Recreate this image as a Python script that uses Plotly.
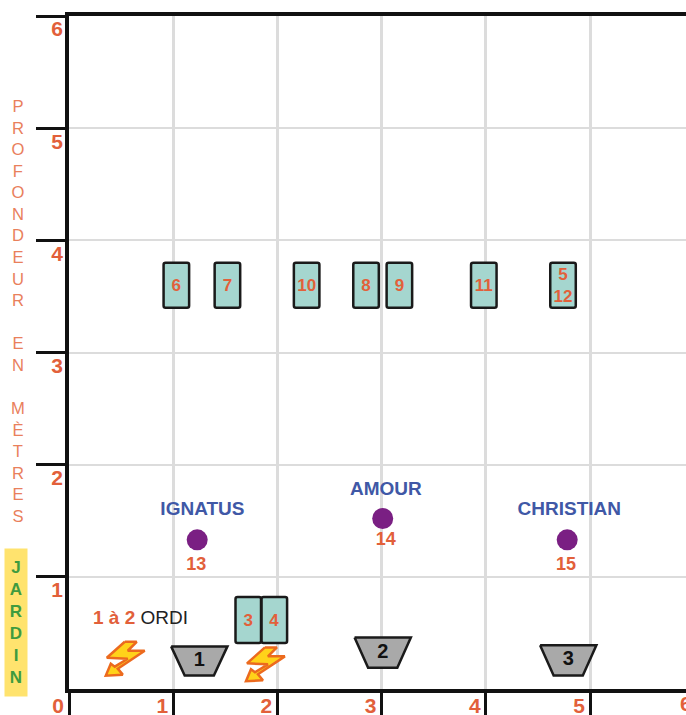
import plotly.graph_objects as go

# --- data (metres) ---
ticks = [0, 1, 2, 3, 4, 5, 6]

back_row_x = [1.03, 1.52, 2.28, 2.85, 3.17, 3.98, 4.74]
back_row_labels = ["6", "7", "10", "8", "9", "11", "5<br>12"]
back_row_bottom = [3.40] * 7
back_row_depth = [0.40] * 7

front_row_x = [1.72, 1.97]
front_row_labels = ["3", "4"]
front_row_bottom = [0.41, 0.41]
front_row_depth = [0.41, 0.41]

actor_x = [1.23, 3.01, 4.78]
actor_y = [1.33, 1.52, 1.33]
actor_names = ["IGNATUS", "AMOUR", "CHRISTIAN"]
actor_name_x = [1.28, 3.04, 4.80]
actor_name_y = [1.59, 1.77, 1.59]
actor_numbers = ["13", "14", "15"]
actor_number_x = [1.22, 3.04, 4.77]
actor_number_y = [1.10, 1.32, 1.10]

wedge_x = [1.25, 3.01, 4.79]
wedge_low = [0.12, 0.19, 0.12]
wedge_high = [0.38, 0.46, 0.39]
wedge_labels = ["1", "2", "3"]

bolt_x = [0.535, 1.88]
bolt_y = [0.27, 0.22]

# --- styling ---
ORANGE = "#e2603a"
ORANGE_LIGHT = "#e9805c"
BLUE = "#4058a6"
GREEN = "#3f9b3f"
FONT = "Liberation Sans"
PX_X, PX_Y = 104.5, 112.7
BOLT_OUTLINE = [(0, -17), (12, -17), (3, -8), (20, -8), (-7, 10), (-2, 16),
                (-19, 17), (-14, 5), (-10, 8), (3, 0), (-18, -1), (0, -17)]
WEDGE_TOP, WEDGE_BOTTOM = 0.27, 0.14
X_END = 5.92

fig = go.Figure()

for xs, labels, base, depth in [(back_row_x, back_row_labels, back_row_bottom, back_row_depth),
                                (front_row_x, front_row_labels, front_row_bottom, front_row_depth)]:
    fig.add_trace(go.Bar(
        x=xs, y=depth, base=base, width=0.245, text=labels,
        textposition="inside", insidetextanchor="middle", textangle=0,
        constraintext="none",
        textfont=dict(family=FONT, size=17, color=ORANGE, weight="bold"),
        marker=dict(color="#a5d6cf", line=dict(color="#1a1a1a", width=2.5)),
    ))

for cx, lo, hi in zip(wedge_x, wedge_low, wedge_high):
    fig.add_trace(go.Scatter(
        x=[cx - WEDGE_TOP, cx + WEDGE_TOP, cx + WEDGE_BOTTOM, cx - WEDGE_BOTTOM, cx - WEDGE_TOP],
        y=[hi, hi, lo, lo, hi], mode="lines", fill="toself", fillcolor="#a9a9a9",
        line=dict(color="#1a1a1a", width=2.5),
    ))
fig.add_trace(go.Scatter(
    x=wedge_x, y=[(a + b) / 2 for a, b in zip(wedge_low, wedge_high)], mode="text",
    text=wedge_labels, textfont=dict(family=FONT, size=20, color="#111111", weight="bold"),
))

for cx, cy in zip(bolt_x, bolt_y):
    fig.add_trace(go.Scatter(
        x=[cx + dx / PX_X for dx, _ in BOLT_OUTLINE],
        y=[cy - dy / PX_Y for _, dy in BOLT_OUTLINE],
        mode="lines", fill="toself", fillcolor="#ffd21a",
        line=dict(color="#ec6a1e", width=2.5),
    ))

fig.add_trace(go.Scatter(
    x=actor_x, y=actor_y, mode="markers",
    marker=dict(size=21, color="#7a1f83"),
))
fig.add_trace(go.Scatter(
    x=actor_name_x, y=actor_name_y, mode="text", text=actor_names,
    textfont=dict(family=FONT, size=19, color=BLUE, weight="bold"),
))
fig.add_trace(go.Scatter(
    x=actor_number_x, y=actor_number_y, mode="text", text=actor_numbers,
    textfont=dict(family=FONT, size=18, color=ORANGE, weight="bold"),
))

tick_font = dict(family=FONT, size=21, color=ORANGE, weight="bold")

fig.update_layout(
    width=686, height=715,
    margin=dict(l=69, r=0, t=16, b=26, autoexpand=False),
    paper_bgcolor="white", plot_bgcolor="white",
    showlegend=False, barmode="overlay", barcornerradius=2,
    font=dict(family=FONT),
    xaxis=dict(
        range=[0, X_END], tickvals=ticks[:-1], ticktext=[str(t) for t in ticks[:-1]],
        ticks="outside", ticklen=26, tickwidth=3, tickcolor="#111111", automargin=False,
        showline=True, linewidth=3.5, linecolor="#111111", mirror=True,
        showgrid=True, gridcolor="#dcdcdc", gridwidth=2.5, zeroline=False,
        tickfont=tick_font, ticklabelstandoff=-31, ticklabelshift=-11,
    ),
    yaxis=dict(
        range=[0, 6], tickvals=ticks[1:], ticktext=[str(t) for t in ticks[1:]],
        ticks="outside", ticklen=29, tickwidth=3, tickcolor="#111111", automargin=False,
        showline=True, linewidth=3.5, linecolor="#111111",
        showgrid=True, gridcolor="#dcdcdc", gridwidth=2, zeroline=False,
        tickfont=tick_font, ticklabelstandoff=-31, ticklabelshift=13,
    ),
    annotations=[
        # the "6" of the width scale falls at the right edge, past the plotted range
        dict(xref="x", yref="y", x=X_END, y=0, yshift=-14, xanchor="center", yanchor="middle",
             text=str(ticks[-1]), showarrow=False, font=tick_font),
        dict(xref="paper", x=0, xshift=-51, yref="paper", y=0.5, yshift=41, yanchor="middle",
             xanchor="center", showarrow=False, align="center",
             text="<br>".join("PROFONDEUR") + "<br><br>" + "<br>".join("EN") + "<br><br>" + "<br>".join("MÈTRES"),
             font=dict(family=FONT, size=16.6, color=ORANGE_LIGHT)),
        dict(xref="paper", x=0, xshift=-53.5, yref="y", y=0, yshift=-8, yanchor="bottom",
             xanchor="center", showarrow=False, align="center",
             bgcolor="#ffe36e", width=20, height=145,
             text="<br>".join("JARDIN"),
             font=dict(family=FONT, size=17, color=GREEN, weight="bold")),
        dict(xref="x", yref="y", x=0.69, y=0.64, showarrow=False, xanchor="center", yanchor="middle",
             text="<b style='color:%s'>1 à 2</b> ORDI" % ORANGE,
             font=dict(family=FONT, size=19, color="#222222")),
    ],
)

fig.write_html("out.html", config={"displayModeBar": False},
               post_script="document.body.style.margin='0';document.documentElement.style.overflow='hidden';")
